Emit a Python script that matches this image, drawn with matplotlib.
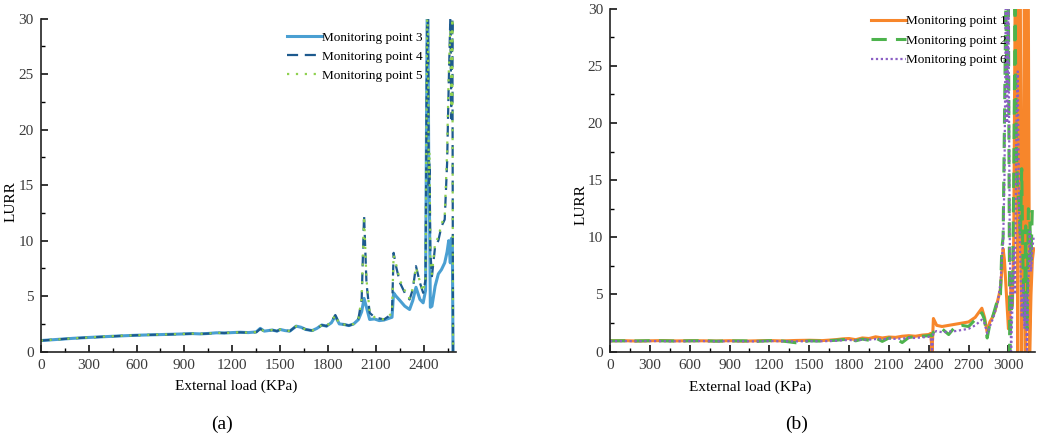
import matplotlib
matplotlib.use("Agg")
import matplotlib.pyplot as plt
from matplotlib.ticker import MultipleLocator

plt.rcParams['font.family'] = ['Liberation Serif', 'DejaVu Serif']

# ---- panel (a): monitoring points 3, 4, 5 ----
load_a = [0, 100, 200, 300, 400, 500, 600, 700, 800, 900,
          950, 1000, 1050, 1100, 1150, 1200, 1250, 1300, 1350, 1375,
          1400, 1450, 1480, 1500, 1530, 1560, 1600, 1630, 1660, 1700,
          1730, 1760, 1790, 1820, 1845, 1870, 1900, 1930, 1960, 1990,
          2010, 2025, 2040, 2060, 2090, 2120, 2150, 2180, 2200, 2210,
          2225, 2250, 2280, 2310, 2330, 2350, 2375, 2395, 2410, 2420,
          2425, 2430, 2435, 2440, 2450, 2470, 2490, 2510, 2530, 2545,
          2555, 2565, 2572, 2578, 2582]
lurr_p3 = [1.0, 1.1, 1.2, 1.28, 1.35, 1.42, 1.48, 1.52, 1.56, 1.6,
           1.63, 1.6, 1.64, 1.7, 1.68, 1.72, 1.75, 1.72, 1.78, 2.1,
           1.85, 1.95, 1.85, 2.0, 1.9, 1.85, 2.3, 2.2, 2.0, 1.9,
           2.1, 2.4, 2.3, 2.6, 3.2, 2.5, 2.45, 2.35, 2.5, 2.9,
           3.6, 4.8, 4.0, 2.9, 2.95, 2.8, 2.85, 3.0, 3.1, 5.3,
           5.0, 4.6, 4.1, 3.8, 4.6, 5.8, 4.7, 4.4, 5.5, 30,
           30, 17, 12, 4.0, 4.1, 5.9, 7.0, 7.4, 8.0, 9.0,
           10.0, 8.0, 10.2, 9.5, 0]
lurr_p4 = [1.0, 1.1, 1.2, 1.28, 1.35, 1.42, 1.48, 1.52, 1.55, 1.6,
           1.62, 1.6, 1.63, 1.7, 1.68, 1.72, 1.74, 1.72, 1.76, 2.05,
           1.85, 1.95, 1.85, 2.0, 1.9, 1.85, 2.3, 2.2, 2.0, 1.9,
           2.1, 2.4, 2.3, 2.7, 3.3, 2.5, 2.45, 2.35, 2.5, 3.0,
           4.7, 12.3, 6.2, 3.5, 3.1, 3.0, 2.9, 3.2, 3.5, 8.9,
           7.7, 6.2, 5.3, 4.7, 5.6, 7.7, 6.2, 5.3, 6.5, 30,
           30, 15, 17, 9, 6.8, 9.5, 10.0, 11.3, 11.9, 17,
           24, 30, 21, 30, 0]
lurr_p5 = [1.0, 1.1, 1.2, 1.28, 1.36, 1.43, 1.48, 1.53, 1.56, 1.6,
           1.63, 1.61, 1.64, 1.7, 1.68, 1.72, 1.75, 1.72, 1.76, 2.0,
           1.86, 1.95, 1.86, 2.0, 1.9, 1.86, 2.3, 2.2, 2.0, 1.9,
           2.1, 2.4, 2.3, 2.7, 3.3, 2.5, 2.45, 2.35, 2.5, 3.0,
           4.8, 12.2, 6.5, 3.6, 3.1, 3.0, 2.9, 3.2, 3.5, 8.7,
           7.9, 6.4, 5.5, 4.8, 5.7, 7.6, 6.3, 5.4, 6.6, 30,
           29, 16, 18, 8, 7.0, 9.8, 10.3, 11.5, 12.2, 18,
           25, 29, 22, 30, 0]

# ---- panel (b): monitoring points 1, 2, 6 ----
load_b = [0, 100, 200, 300, 400, 500, 600, 700, 800, 900,
          1000, 1100, 1200, 1300, 1400, 1500, 1600, 1700,
          1750, 1800, 1850, 1900, 1950, 2000, 2050, 2100, 2150, 2200,
          2250, 2300, 2350, 2400,
          2415, 2425, 2435, 2460, 2500, 2550, 2600, 2650, 2700, 2750,
          2800, 2820, 2840, 2860, 2880, 2900, 2920, 2940,
          2950, 2960, 2970, 2980, 2990, 3000, 3010, 3020, 3030, 3040,
          3050, 3060, 3070, 3080, 3090, 3100, 3110, 3120, 3130, 3140,
          3150, 3160, 3170, 3180, 3190]
lurr_p1 = [0.95, 0.96, 0.93, 0.95, 0.97, 0.94, 0.96, 0.95, 0.93, 0.96,
           0.92, 0.95, 0.97, 0.94, 0.98, 1.0, 0.97, 1.05,
           1.12, 1.15, 1.05, 1.2, 1.15, 1.3, 1.2, 1.28, 1.25, 1.35,
           1.4, 1.35, 1.45, 1.5,
           1.6, 0.0, 2.9, 2.3, 2.2, 2.3, 2.4, 2.5, 2.6, 3.0,
           3.8, 3.0, 1.7, 2.6, 3.0, 3.6, 4.5, 5.5,
           7.0, 9.0, 8.0, 6.0, 4.0, 2.0, 3.0, 6.0, 4.0, 10,
           30, 30, 0, 30, 30, 0, 8, 30, 0, 30,
           30, 0, 5, 8, 9]
lurr_p2 = [0.95, 0.95, 0.94, 0.96, 0.95, 0.93, 0.95, 0.96, 0.92, 0.94,
           0.95, 0.9, 0.96, 0.93, 0.78, 0.95, 0.92, 1.0,
           1.05, 1.1, 0.95, 1.1, 1.0, 1.2, 0.9, 1.2, 1.15, 0.8,
           1.25, 1.3, 1.35, 1.4,
           1.45, 1.4, 1.7, 1.9, 2.0, 1.5, 2.2, 2.3, 2.2, 2.8,
           3.4, 2.8, 1.2, 2.4, 3.0, 3.8, 4.6, 5.0,
           9.0, 10.0, 20, 30, 23, 30, 0, 3, 5, 15,
           30, 17.5, 14, 13, 10, 16, 7, 3, 11, 2,
           12.5, 12, 8, 12.5, 12.8]
lurr_p6 = [0.92, 0.93, 0.92, 0.93, 0.92, 0.91, 0.92, 0.93, 0.9, 0.92,
           0.91, 0.9, 0.93, 0.91, 0.9, 0.92, 0.91, 0.95,
           1.0, 1.02, 0.98, 1.05, 1.05, 1.1, 1.08, 1.15, 1.12, 1.15,
           1.2, 1.2, 1.25, 1.3,
           1.3, 0.0, 1.7, 1.8, 1.7, 1.75, 1.8, 1.9, 2.0, 2.3,
           2.8, 2.5, 1.6, 2.2, 2.8, 3.5, 4.3, 6.0,
           8.0, 9.5, 15, 30, 20, 30, 10, 0, 4, 9,
           5, 20, 24.5, 12, 8, 3, 6, 2, 5, 0,
           6, 10.5, 7, 9, 10]

fig = plt.figure(figsize=(10.38, 4.36), dpi=100)
ax_a = fig.add_axes([0.0392, 0.1934, 0.400, 0.764])
ax_b = fig.add_axes([0.5877, 0.1934, 0.4094, 0.787])

ax_a.plot(load_a, lurr_p3, color='#4a9fd2', lw=2.2, label='Monitoring point 3')
ax_a.plot(load_a, lurr_p4, color='#1d5a8e', lw=1.6, dashes=(5, 3), label='Monitoring point 4')
ax_a.plot(load_a, lurr_p5, color='#8fd14f', lw=1.6, dashes=(1, 3), label='Monitoring point 5')

ax_b.plot(load_b, lurr_p1, color='#f7862b', lw=2.2, label='Monitoring point 1')
ax_b.plot(load_b, lurr_p2, color='#4db34d', lw=2.2, dashes=(5, 3), label='Monitoring point 2')
ax_b.plot(load_b, lurr_p6, color='#8b5fc4', lw=1.6, dashes=(1, 1.2), label='Monitoring point 6')

for ax, xmax, xtop in [(ax_a, 2600, 2400), (ax_b, 3200, 3000)]:
    ax.set_xlim(0, xmax)
    ax.set_ylim(0, 30)
    ax.set_xticks(range(0, xtop + 1, 300))
    ax.xaxis.set_minor_locator(MultipleLocator(150))
    ax.set_yticks(range(0, 31, 5))
    ax.yaxis.set_minor_locator(MultipleLocator(2.5))
    ax.spines['top'].set_visible(False)
    ax.spines['right'].set_visible(False)
    for s in ['left', 'bottom']:
        ax.spines[s].set_linewidth(1.2)
        ax.spines[s].set_color('#222222')
    ax.tick_params(which='major', direction='in', length=5, width=1.1,
                   labelsize=11, labelcolor='#3a3a3a', pad=5)
    ax.tick_params(which='minor', direction='in', length=3, width=1.0)
    ax.set_xlabel('External load (KPa)', fontsize=11)
    ax.set_ylabel('LURR', fontsize=11)

ax_a.xaxis.set_label_coords(0.47, -0.085)
ax_a.yaxis.set_label_coords(-0.055, 0.45)
ax_b.xaxis.set_label_coords(0.33, -0.083)
ax_b.yaxis.set_label_coords(-0.052, 0.43)

ax_a.legend(loc='upper right', bbox_to_anchor=(0.935, 0.98), frameon=False,
            fontsize=9.5, handlelength=2.6, handletextpad=0.0,
            labelspacing=0.5, borderpad=0)
ax_b.legend(loc='upper right', bbox_to_anchor=(0.95, 1.0), frameon=False,
            fontsize=9.5, handlelength=2.7, handletextpad=0.0,
            labelspacing=0.55, borderpad=0)

fig.text(222 / 1038, 0.027, '(a)', fontsize=14, ha='center', va='center')
fig.text(797 / 1038, 0.027, '(b)', fontsize=14, ha='center', va='center')

fig.savefig('out.png', dpi=100)
